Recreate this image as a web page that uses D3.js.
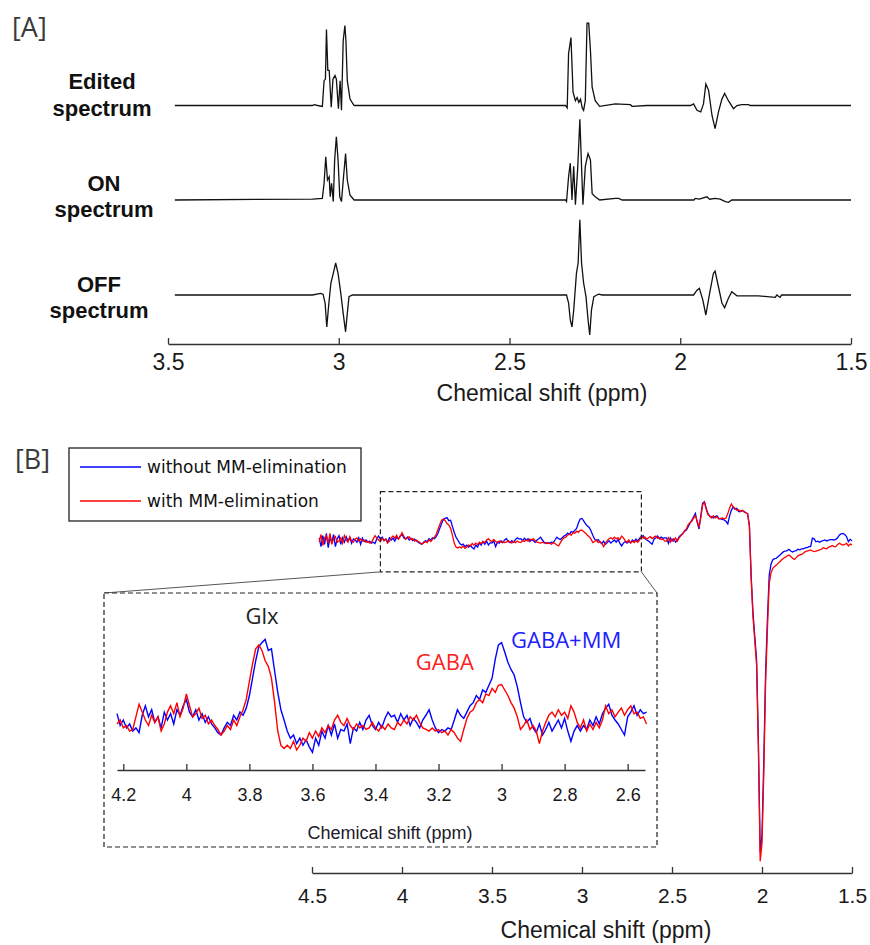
<!DOCTYPE html>
<html>
<head>
<meta charset="utf-8">
<script src="https://cdn.jsdelivr.net/npm/d3@7"></script>
<style>
  body { margin: 0; background: #fff; }
  svg text { font-family: "Liberation Sans", Arial, sans-serif; }
</style>
</head>
<body>
<div id="my_dataviz"></div>
<script>
/////////////////////////////////////
//////////////// data ///////////////
/////////////////////////////////////

// [A] spectra: [ppm, intensity]
var editedSpec = [
  [3.48,0],[3.077,0],[3.072,0.01],[3.062,0],[3.048,-0.012],[3.043,0.31],[3.039,0.33],[3.036,0.95],[3.032,0.44],[3.028,0.44],
  [3.022,-0.02],[3.017,0.33],[3.011,0.375],[3.007,0.33],[3.001,-0.04],[2.996,0.31],[2.992,-0.06],[2.987,0.81],[2.982,1.0],[2.979,0.81],
  [2.975,0.31],[2.967,0.08],[2.955,0],
  [2.336,0],[2.331,-0.03],[2.327,0.65],[2.320,0.85],[2.314,0.17],[2.307,0.06],[2.302,0.10],[2.297,0.04],[2.292,0.08],[2.287,-0.03],
  [2.283,-0.06],[2.278,0.06],[2.273,1.03],[2.268,1.03],[2.263,0.69],[2.258,0.23],[2.249,0.06],[2.236,-0.01],[2.19,0.02],[2.146,0.01],
  [2.141,-0.01],[2.097,0],
  [1.97,0],[1.961,0.02],[1.951,-0.06],[1.940,-0.08],[1.932,0.02],[1.925,0.27],[1.917,0.19],[1.907,-0.125],[1.898,-0.29],[1.888,-0.08],
  [1.878,0.08],[1.870,0.15],[1.859,0.06],[1.844,-0.04],[1.834,0],[1.820,0.01],[1.800,0.01],[1.795,0],[1.50,0]
];
var onSpec = [
  [3.48,0],[3.077,0.012],[3.048,0.02],[3.043,0.21],[3.038,0.54],[3.033,0.25],[3.028,0.29],[3.025,0.04],[3.021,0.21],[3.016,-0.02],
  [3.012,0.5],[3.007,0.79],[3.002,0.5],[2.997,0.04],[2.992,-0.02],[2.986,0.29],[2.980,0.58],[2.975,0.25],[2.967,0.06],[2.955,0],
  [2.336,0],[2.333,-0.02],[2.327,0.29],[2.322,0.46],[2.317,0],[2.312,0.42],[2.307,-0.06],[2.300,0.42],[2.294,1.01],[2.289,0.42],
  [2.285,-0.06],[2.278,0.42],[2.270,0.58],[2.263,0.5],[2.258,0.08],[2.249,0.04],[2.236,0],[2.19,0.02],[2.18,0.02],[2.17,0],
  [1.96,0],[1.956,0.02],[1.944,0.01],[1.922,0.04],[1.914,0.01],[1.898,0.02],[1.883,0.01],[1.868,-0.02],[1.859,-0.03],[1.849,0],[1.50,0]
];
var offSpec = [
  [3.48,0],[3.077,0],[3.053,0.02],[3.046,0.01],[3.040,-0.10],[3.035,-0.40],[3.030,-0.15],[3.023,0.15],[3.016,0.27],[3.009,0.40],
  [3.002,0.27],[2.994,0.02],[2.987,-0.23],[2.980,-0.46],[2.975,-0.23],[2.970,-0.02],[2.960,0],
  [2.333,0],[2.327,-0.10],[2.322,-0.31],[2.317,-0.40],[2.312,-0.19],[2.304,0.27],[2.299,0.40],[2.294,0.94],[2.289,0.40],[2.283,0.15],
  [2.276,-0.02],[2.270,-0.31],[2.265,-0.50],[2.260,-0.19],[2.253,-0.02],[2.244,0],[2.239,0.01],[2.229,0],
  [1.961,0],[1.951,0.06],[1.944,0.083],[1.934,-0.06],[1.925,-0.25],[1.914,0.02],[1.903,0.27],[1.898,0.30],[1.888,0.10],[1.878,-0.10],
  [1.870,-0.16],[1.859,-0.04],[1.849,0.04],[1.834,-0.01],[1.771,-0.01],[1.722,-0.03],[1.717,0],[1.708,-0.03],[1.703,0],[1.50,0]
];
var labelsA = [["Edited", "spectrum"], ["ON", "spectrum"], ["OFF", "spectrum"]];
var ticksA = [3.5, 3, 2.5, 2, 1.5];

// [B] difference spectra, one sample every row entry
var ppmB = [
  4.46,4.45,4.44,4.43,4.42,4.41,4.40,
  4.39,4.38,4.37,4.36,4.35,4.34,4.33,4.32,4.31,4.30,
  4.29,4.28,4.27,4.26,4.25,4.24,4.23,4.22,4.21,4.20,
  4.19,4.18,4.17,4.16,4.15,4.14,4.13,4.12,4.11,4.10,
  4.09,4.08,4.07,4.06,4.05,4.04,4.03,4.02,4.01,4.00,
  3.99,3.98,3.97,3.96,3.95,3.94,3.93,3.92,3.91,3.90,
  3.89,3.88,3.87,3.86,3.85,3.84,3.83,3.82,3.81,3.80,
  3.79,3.78,3.77,3.76,3.75,3.74,3.73,3.72,3.71,3.70,
  3.69,3.68,3.67,3.66,3.65,3.64,3.63,3.62,3.61,3.60,
  3.59,3.58,3.57,3.56,3.55,3.54,3.53,3.52,3.51,3.50,
  3.49,3.48,3.47,3.46,3.45,3.44,3.43,3.42,3.41,3.40,
  3.39,3.38,3.37,3.36,3.35,3.34,3.33,3.32,3.31,3.30,
  3.29,3.28,3.27,3.26,3.25,3.24,3.23,3.22,3.21,3.20,
  3.19,3.18,3.17,3.16,3.15,3.14,3.13,3.12,3.11,3.10,
  3.09,3.08,3.07,3.06,3.05,3.04,3.03,3.02,3.01,3.00,
  2.99,2.98,2.97,2.96,2.95,2.94,2.93,2.92,2.91,2.90,
  2.89,2.88,2.87,2.86,2.85,2.84,2.83,2.82,2.81,2.80,
  2.79,2.78,2.77,2.76,2.75,2.74,2.73,2.72,2.71,2.70,
  2.69,2.68,2.67,2.66,2.65,2.64,2.63,2.62,2.61,2.60,
  2.59,2.58,2.57,2.56,2.55,2.54,2.53,2.52,2.51,2.50,
  2.49,2.48,2.47,2.46,2.45,2.44,2.43,2.42,2.41,2.40,
  2.39,2.38,2.37,2.36,2.35,2.34,2.33,2.32,2.31,2.30,
  2.29,2.28,2.27,2.26,2.25,2.24,2.23,2.22,2.21,2.20,
  2.19,2.18,2.17,2.16,2.15,2.14,2.13,2.12,2.11,2.10,
  2.09,2.08,2.07,2.06,2.05,2.04,2.03,2.02,2.01,2.00,
  1.99,1.98,1.97,1.96,1.95,1.94,1.93,1.92,1.91,1.90,
  1.89,1.88,1.87,1.86,1.85,1.84,1.83,1.82,1.81,1.80,
  1.79,1.78,1.77,1.76,1.75,1.74,1.73,1.72,1.71,1.70,
  1.69,1.68,1.67,1.66,1.65,1.64,1.63,1.62,1.61,1.60,
  1.59,1.58,1.57,1.56,1.55,1.54,1.53,1.52,1.51,1.50
];
var withoutMM = [
  0.1,-0.3,0.2,-0.2,0.3,-0.35,0.1,
  -0.1,0.25,-0.3,0.05,0.2,-0.2,0.1,-0.1,0.15,-0.05,
  0.1,-0.15,0.05,0,-0.1,0.1,-0.2,0.08,-0.07,0,
  -0.1,-0.05,-0.14,-0.1,-0.16,0.06,0.18,0.04,0.13,-0.03,
  0.04,-0.1,0.1,0,0.08,-0.05,0.13,0.06,0.18,0.26,
  0.1,0.04,0.13,0,0.08,-0.03,0.04,-0.05,-0.1,-0.16,
  -0.19,-0.1,-0.03,-0.07,0.06,0,0.1,0.06,0.15,0.31,
  0.53,0.75,0.93,0.98,1.02,0.88,0.9,0.62,0.35,0.13,
  0,-0.14,-0.23,-0.19,-0.3,-0.23,-0.32,-0.25,-0.34,-0.41,
  -0.23,-0.32,-0.14,-0.23,-0.07,-0.19,-0.05,-0.23,-0.12,-0.14,
  -0.05,-0.3,-0.1,-0.14,-0.03,-0.12,0,0.06,-0.07,-0.12,
  -0.03,-0.1,0.02,0.1,0.04,0.06,-0.03,0.08,0,0.06,
  -0.07,0.02,-0.03,-0.1,0,0.06,0.13,0,-0.1,-0.16,
  -0.12,-0.14,-0.1,-0.12,0,0.13,0.06,0.02,0.1,0.18,
  0.22,0.31,0.26,0.38,0.35,0.44,0.53,0.77,0.95,0.98,
  0.86,0.73,0.64,0.57,0.42,0.22,0.04,-0.03,0.02,-0.1,
  -0.16,-0.05,-0.19,-0.12,-0.03,-0.14,-0.07,0,-0.1,0.02,
  -0.14,-0.27,-0.14,-0.07,-0.14,-0.07,-0.12,0,-0.07,0.04,
  -0.05,0.08,0.15,0.2,0.06,0,-0.05,-0.12,-0.19,0.04,
  0.1,0.18,0.06,0.13,0.08,0.1,0.1,-0.15,0.1,-0.05,
  0.05,-0.1,0,0.15,0.23,0.3,0.4,0.45,0.6,0.76,
  0.9,1.06,1.21,0.8,0.5,1.1,1.67,1.74,1.45,1.2,
  1.06,1.06,1.0,1.06,1.1,0.98,0.96,0.94,0.91,0.85,
  0.73,1.1,1.36,1.5,1.4,1.44,1.29,1.29,1.33,1.3,
  1.24,1.2,0.68,-1.67,-3.3,-4.4,-5.45,-9.2,-14.2,-13.4,
  -10.0,-6.0,-3.6,-1.6,-1.1,-0.9,-0.85,-0.83,-0.75,-0.68,
  -0.6,-0.53,-0.5,-0.48,-0.42,-0.5,-0.55,-0.5,-0.48,-0.42,
  -0.45,-0.4,-0.4,-0.36,-0.35,-0.3,-0.3,0.08,0.05,-0.08,
  -0.05,-0.1,-0.05,-0.03,0.0,-0.05,0.0,0.02,0.02,0.0,
  0.03,0.1,0.23,0.28,0.3,0.25,0.15,-0.08,0.03,-0.03
];
var withMM = [
  -0.1,0.25,-0.25,0.1,0.2,-0.15,0.3,
  -0.2,0.05,0.15,-0.1,-0.05,0.1,-0.15,0.2,0,-0.1,
  0.15,-0.05,-0.1,0.05,0.1,-0.05,0.05,-0.05,0,-0.1,
  -0.07,-0.14,-0.12,0.04,0.2,0.1,0,-0.07,0.06,-0.03,
  0.04,-0.14,-0.05,0.1,0.18,0.08,0.22,0.04,0.15,0.33,
  0.18,0.04,0.08,0.15,0.02,0.06,-0.05,0,-0.07,-0.12,
  -0.19,-0.14,-0.07,-0.12,0,-0.07,0.04,0.13,0.26,0.49,
  0.71,0.9,0.95,0.88,0.75,0.68,0.53,0.22,-0.14,-0.32,
  -0.36,-0.32,-0.36,-0.27,-0.38,-0.32,-0.23,-0.27,-0.16,-0.23,
  -0.14,-0.21,-0.1,-0.16,-0.07,-0.12,0,0.06,-0.03,-0.07,
  0.02,-0.07,-0.12,-0.05,-0.1,-0.07,-0.12,-0.1,-0.03,-0.1,
  -0.14,-0.07,-0.12,-0.05,-0.1,-0.12,-0.03,-0.07,0,-0.05,
  0.04,0,0.06,-0.03,-0.1,-0.12,-0.14,-0.1,-0.14,-0.12,
  -0.16,-0.14,-0.19,-0.12,-0.16,-0.23,-0.27,-0.12,0.02,0.1,
  0.13,0.22,0.26,0.22,0.33,0.31,0.4,0.35,0.44,0.45,
  0.38,0.31,0.22,0.15,0.04,-0.12,-0.07,0,-0.12,-0.07,
  -0.14,-0.3,-0.14,-0.03,0.06,0.1,0.04,0.13,0.06,0.1,
  0.02,0.18,0.1,-0.03,-0.1,0,-0.14,-0.05,-0.12,-0.03,
  -0.1,0,0.18,0.08,0.13,0.04,0.1,0.15,0.06,0.13,
  0.18,0.08,0.1,0.02,0.04,-0.05,-0.05,0.1,-0.1,0.05,
  -0.05,0.1,-0.05,0.1,0.2,0.28,0.42,0.5,0.7,0.8,
  0.85,1.0,1.1,0.85,0.6,1.0,1.6,1.72,1.4,1.15,
  1.1,1.0,1.1,1.0,1.05,0.95,0.98,1.0,0.95,1.0,
  1.2,1.45,1.64,1.5,1.44,1.35,1.38,1.3,1.35,1.28,
  1.24,1.2,0.6,-1.8,-3.5,-4.6,-5.7,-9.5,-14.6,-13.8,
  -10.6,-6.5,-4.1,-2.0,-1.5,-1.29,-1.2,-1.14,-1.05,-0.98,
  -0.9,-0.83,-0.78,-0.72,-0.68,-0.75,-0.83,-0.88,-0.8,-0.72,
  -0.68,-0.65,-0.6,-0.53,-0.5,-0.48,-0.45,-0.5,-0.53,-0.5,
  -0.48,-0.45,-0.42,-0.35,-0.38,-0.4,-0.32,-0.3,-0.25,-0.3,
  -0.3,-0.2,-0.15,-0.2,-0.23,-0.2,-0.15,-0.27,-0.18,-0.22
];
var seriesB = ["without MM-elimination", "with MM-elimination"];
var ticksB = [4.5, 4, 3.5, 3, 2.5, 2, 1.5];
var ticksInset = [4.2, 4, 3.8, 3.6, 3.4, 3.2, 3, 2.8, 2.6];
var insetRange = [4.22, 2.54];
var zoomBox = {ppm: [4.12, 2.67], val: [2.2, -1.45]};

var blueData = ppmB.map(function(p, i) { return [p, withoutMM[i]]; });
var redData = ppmB.map(function(p, i) { return [p, withMM[i]]; });

var svg = d3.select("#my_dataviz")
  .append("svg")
    .attr("width", 870)
    .attr("height", 945);

function styleAxis(g, size, y) {
  g.select(".domain").attr("stroke", "#333").attr("stroke-width", 1.3);
  g.selectAll(".tick line").attr("stroke", "#333").attr("stroke-width", 1.3);
  g.selectAll(".tick text")
    .attr("fill", "#1a1a1a")
    .style("font-size", size + "px")
    .attr("y", y)
    .attr("dy", 0);
}

/////////////////////////////////////
////////////// panel A //////////////
/////////////////////////////////////

var xA = d3.scaleLinear().domain([3.5, 1.5]).range([168, 851]);
var yA = d3.scaleLinear().domain([0, 1]).range([0, -80]);
var baseA = [105.5, 200, 295];
var labelY = [[89, 116], [191, 217], [292, 318]];
var labelX = [102, 104, 99];

svg.append("text").attr("x", 12).attr("y", 37).text("[A]")
  .style("font-family", "'Open Sans', sans-serif").style("font-size", "27px").attr("fill", "#3a3a3a");

var lineA = d3.line()
  .x(function(d) { return xA(d[0]); })
  .y(function(d) { return yA(d[1]); });

[editedSpec, onSpec, offSpec].forEach(function(spec, i) {
  svg.append("g")
    .attr("transform", "translate(0," + baseA[i] + ")")
    .append("path")
      .datum(spec)
      .attr("d", lineA)
      .attr("fill", "none")
      .attr("stroke", "#111")
      .attr("stroke-width", 1.3);
  labelsA[i].forEach(function(t, j) {
    svg.append("text")
      .attr("x", labelX[i]).attr("y", labelY[i][j])
      .attr("text-anchor", "middle")
      .style("font-weight", "bold").style("font-size", "22px")
      .attr("fill", "#111")
      .text(t);
  });
});

var axA = svg.append("g")
  .attr("transform", "translate(0,344)")
  .call(d3.axisBottom(xA).tickValues(ticksA).tickSizeInner(-6).tickSizeOuter(0).tickFormat(d3.format("")));
styleAxis(axA, 23, 26);

svg.append("text").attr("x", 542).attr("y", 401).attr("text-anchor", "middle")
  .style("font-size", "23px").attr("fill", "#1a1a1a").text("Chemical shift (ppm)");

/////////////////////////////////////
////////////// panel B //////////////
/////////////////////////////////////

var xB = d3.scaleLinear().domain([4.5, 1.5]).range([312, 852]);
var yB = d3.scaleLinear().domain([0, 1]).range([540, 518]);

svg.append("text").attr("x", 15).attr("y", 469).text("[B]")
  .style("font-family", "'Open Sans', sans-serif").style("font-size", "27px").attr("fill", "#3a3a3a");

var colors = ["#0000ff", "#ff0000"];

var lineB = d3.line()
  .x(function(d) { return xB(d[0]); })
  .y(function(d) { return yB(d[1]); });

[blueData, redData].forEach(function(data, i) {
  svg.append("path")
    .datum(data)
    .attr("d", lineB)
    .attr("fill", "none")
    .attr("stroke", colors[i])
    .attr("stroke-width", 1.3);
});

var axB = svg.append("g")
  .attr("transform", "translate(0,873)")
  .call(d3.axisBottom(xB).tickValues(ticksB).tickSizeInner(-6).tickSizeOuter(0).tickFormat(d3.format("")));
styleAxis(axB, 21, 30);

svg.append("text").attr("x", 606).attr("y", 938).attr("text-anchor", "middle")
  .style("font-size", "23px").attr("fill", "#1a1a1a").text("Chemical shift (ppm)");

// dashed zoom region on the main spectrum
var zx0 = xB(zoomBox.ppm[0]), zx1 = xB(zoomBox.ppm[1]);
var zy0 = yB(zoomBox.val[0]), zy1 = yB(zoomBox.val[1]);
svg.append("rect")
  .attr("x", zx0).attr("y", zy0)
  .attr("width", zx1 - zx0).attr("height", zy1 - zy0)
  .attr("fill", "none").attr("stroke", "#222").attr("stroke-width", 1.2)
  .attr("stroke-dasharray", "5,3");

// inset frame
var inset = {x0: 104, y0: 593, x1: 657, y1: 847};
svg.append("line").attr("x1", zx0).attr("y1", zy1).attr("x2", inset.x0).attr("y2", inset.y0)
  .attr("stroke", "#555").attr("stroke-width", 1);
svg.append("line").attr("x1", zx1).attr("y1", zy1).attr("x2", inset.x1).attr("y2", inset.y0)
  .attr("stroke", "#555").attr("stroke-width", 1);
svg.append("rect")
  .attr("x", inset.x0).attr("y", inset.y0)
  .attr("width", inset.x1 - inset.x0).attr("height", inset.y1 - inset.y0)
  .attr("fill", "white").attr("stroke", "#222").attr("stroke-width", 1.2)
  .attr("stroke-dasharray", "5,3");

var xI = d3.scaleLinear().domain([4.22, 2.545]).range([117, 645]);
var yI = d3.scaleLinear().domain([0, 1]).range([720, 641]);

var lineI = d3.line()
  .x(function(d) { return xI(d[0]); })
  .y(function(d) { return yI(d[1]); });

[blueData, redData].forEach(function(data, i) {
  svg.append("path")
    .datum(data.filter(function(d) { return d[0] <= insetRange[0] + 1e-9 && d[0] >= insetRange[1] - 1e-9; }))
    .attr("d", lineI)
    .attr("fill", "none")
    .attr("stroke", colors[i])
    .attr("stroke-width", 1.4);
});

var axI = svg.append("g")
  .attr("transform", "translate(0,770)")
  .call(d3.axisBottom(xI).tickValues(ticksInset).tickSizeInner(-6).tickSizeOuter(0).tickFormat(d3.format("")));
styleAxis(axI, 18, 31);

svg.append("text").attr("x", 390).attr("y", 839).attr("text-anchor", "middle")
  .style("font-size", "18px").attr("fill", "#1a1a2a").text("Chemical shift (ppm)");

// peak labels
var peakLabels = [
  {t: "Glx", p: 3.76, v: 1.22, c: "#222"},
  {t: "GABA", p: 3.18, v: 0.63, c: "#ff2020"},
  {t: "GABA+MM", p: 2.795, v: 0.91, c: "#2020ff"}
];
svg.selectAll("peaklab")
  .data(peakLabels)
  .enter()
  .append("text")
    .attr("x", function(d) { return xI(d.p); })
    .attr("y", function(d) { return yI(d.v); })
    .attr("text-anchor", "middle")
    .style("font-family", "'Open Sans', sans-serif")
    .style("font-size", "22px")
    .attr("fill", function(d) { return d.c; })
    .text(function(d) { return d.t; });

// legend
svg.append("rect").attr("x", 69).attr("y", 448).attr("width", 292).attr("height", 73)
  .attr("fill", "white").attr("stroke", "#222").attr("stroke-width", 1.3);
seriesB.forEach(function(s, i) {
  var ly = 467 + i * 34;
  svg.append("line").attr("x1", 80).attr("x2", 141).attr("y1", ly).attr("y2", ly)
    .attr("stroke", colors[i]).attr("stroke-width", 1.5);
  svg.append("text").attr("x", 147).attr("y", ly + 6)
    .style("font-family", "'DejaVu Sans', sans-serif").style("font-size", "17px")
    .attr("fill", "#111").text(s);
});
</script>
</body>
</html>
